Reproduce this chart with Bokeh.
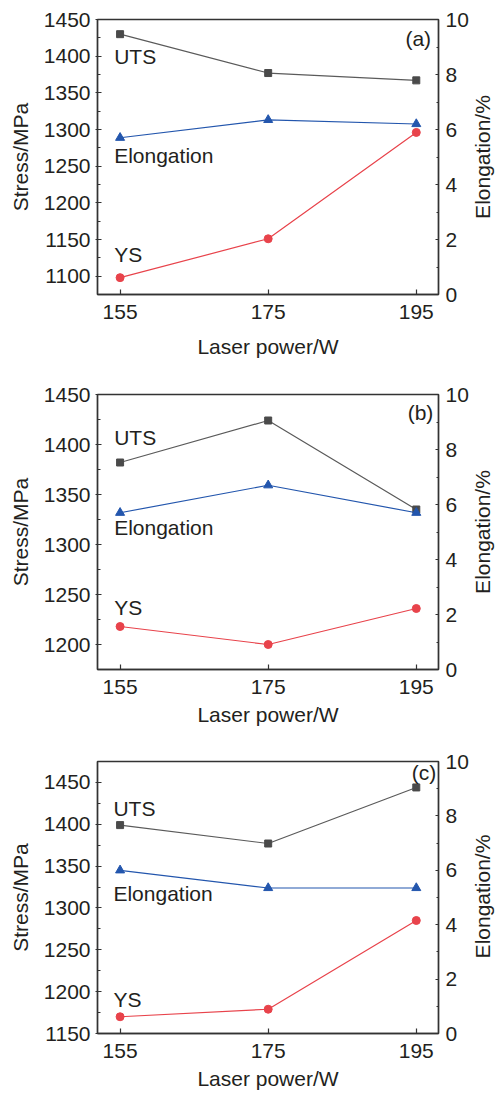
import math
from bokeh.plotting import figure
from bokeh.models import Range1d, LinearAxis, FixedTicker, SingleIntervalTicker, Label
from bokeh.layouts import column
from bokeh.embed import file_html
from bokeh.resources import INLINE

# ---------------- data ----------------
power = [155, 175, 195]
power_ticks = [155, 175, 195]

uts_a = [1430, 1377, 1367]
ys_a = [1098, 1151, 1296]
el_a = [5.70, 6.35, 6.20]

uts_b = [1382, 1424, 1335]
ys_b = [1218, 1200, 1236]
el_b = [5.70, 6.70, 5.70]

uts_c = [1399, 1377, 1444]
ys_c = [1170, 1179, 1285]
el_c = [6.00, 5.35, 5.35]

series_names = ["UTS", "Elongation", "YS"]
panel_tags = ["(a)", "(b)", "(c)"]

FONT = "Liberation Sans"
FS = "21px"
TXT = "#231f20"
AX = "#333333"
C_UTS_L, C_UTS_M = "#5a5a5a", "#4a4a4a"
C_EL = "#2356ad"
C_YS = "#e8434b"

W = 496
LB, RB = 97, 58
FRAME_W = W - LB - RB


def panel(uts, ys, el, tag, yr, x_lab, lab_uts_y, lab_el_y, lab_ys_y, tag_xy,
          frame_h, top, bottom, xlab_standoff):
    p = figure(width=W, height=top + frame_h + bottom, output_backend="svg",
               toolbar_location=None,
               x_range=Range1d(151.95, 198.0), y_range=Range1d(*yr),
               min_border_left=LB, min_border_right=RB,
               min_border_top=top, min_border_bottom=bottom)
    p.extra_y_ranges = {"el": Range1d(0, 10)}
    p.xgrid.visible = False
    p.ygrid.visible = False
    p.outline_line_color = AX
    p.outline_line_width = 1.4
    p.background_fill_color = "white"
    p.border_fill_color = "white"

    xa = p.xaxis[0]
    xa.ticker = FixedTicker(ticks=power_ticks)
    xa.axis_label = "Laser power/W"
    xa.major_tick_in = 5
    xa.major_tick_out = 0
    xa.minor_tick_in = 0
    xa.minor_tick_out = 0
    xa.major_label_standoff = 10
    xa.axis_label_standoff = xlab_standoff

    ya = p.yaxis[0]
    ya.ticker = SingleIntervalTicker(interval=50, num_minor_ticks=2)
    ya.axis_label = "Stress/MPa"
    ya.major_tick_in = 4
    ya.major_tick_out = 2
    ya.minor_tick_in = 3
    ya.minor_tick_out = 0
    ya.major_label_standoff = 5
    ya.axis_label_standoff = 9

    ra = LinearAxis(y_range_name="el",
                    ticker=SingleIntervalTicker(interval=2, num_minor_ticks=2))
    ra.major_tick_in = 3
    ra.major_tick_out = 0
    ra.minor_tick_in = 2
    ra.minor_tick_out = 0
    ra.major_label_standoff = 7
    p.add_layout(ra, "right")

    for ax in [xa, ya, ra]:
        ax.axis_line_color = AX
        ax.axis_line_width = 1.4
        ax.major_tick_line_color = AX
        ax.minor_tick_line_color = AX
        ax.major_tick_line_width = 1.2
        ax.minor_tick_line_width = 1.0
        ax.major_label_text_font = FONT
        ax.major_label_text_font_size = FS
        ax.major_label_text_color = TXT
        ax.axis_label_text_font = FONT
        ax.axis_label_text_font_size = FS
        ax.axis_label_text_font_style = "normal"
        ax.axis_label_text_color = TXT

    # right-hand title, reading bottom-to-top, in its own side panel
    p.add_layout(Label(x=11, y=frame_h / 2, x_units="screen", y_units="screen",
                       text="Elongation/%", angle=math.pi / 2, text_font=FONT,
                       text_font_size=FS, text_color=TXT,
                       text_align="center", text_baseline="middle"), "right")

    p.line(power, uts, line_color=C_UTS_L, line_width=1.2)
    p.scatter(power, uts, marker="square", size=7, fill_color=C_UTS_M, line_color=C_UTS_M)
    p.line(power, ys, line_color=C_YS, line_width=1.2)
    p.scatter(power, ys, marker="circle", size=8, fill_color=C_YS, line_color=C_YS)
    p.line(power, el, line_color=C_EL, line_width=1.2, y_range_name="el")
    p.scatter(power, el, marker="triangle", size=9, fill_color=C_EL, line_color=C_EL,
              y_range_name="el")

    for txt, yy in zip(series_names, [lab_uts_y, lab_el_y, lab_ys_y]):
        p.add_layout(Label(x=x_lab, y=yy, text=txt, text_font=FONT,
                           text_font_size=FS, text_color=TXT,
                           text_align="left", text_baseline="middle"))
    p.add_layout(Label(x=tag_xy[0], y=tag_xy[1], text=tag, text_font=FONT,
                       text_font_size=FS, text_color=TXT,
                       text_align="right", text_baseline="middle"))
    return p


pa = panel(uts_a, ys_a, el_a, panel_tags[0], (1075, 1450), 154.2,
           1400, 1265, 1129, (197.0, 1424), frame_h=275, top=19, bottom=70,
           xlab_standoff=13)
pb = panel(uts_b, ys_b, el_b, panel_tags[1], (1175, 1450), 154.2,
           1407, 1317, 1237, (197.3, 1432), frame_h=275, top=30, bottom=60,
           xlab_standoff=6)
pc = panel(uts_c, ys_c, el_c, panel_tags[2], (1150, 1475), 154.1,
           1419, 1317, 1191, (197.7, 1462), frame_h=274, top=32, bottom=57,
           xlab_standoff=6)

layout = column(pa, pb, pc, spacing=0)
open("out.html", "w").write(file_html(layout, INLINE))
